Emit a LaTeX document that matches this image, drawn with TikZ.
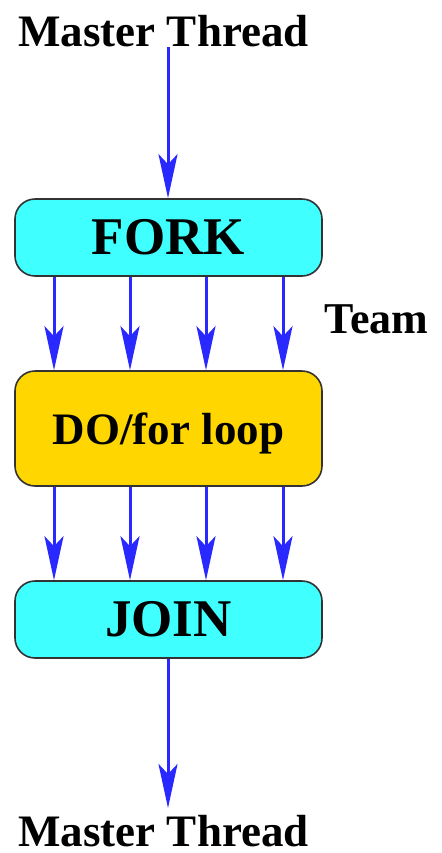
\documentclass[tikz,border=0pt]{standalone}
\usepackage{fontspec}
\setmainfont{Liberation Serif}
\usetikzlibrary{arrows.meta}
\definecolor{boxcyan}{RGB}{64,255,255}
\definecolor{boxgold}{RGB}{255,214,0}
\definecolor{threadblue}{RGB}{40,40,255}
\begin{document}
\begin{tikzpicture}[x=0.5pt,y=-0.5pt,
        box/.style={draw=black!80,line width=0.8pt,rounded corners=10pt,minimum width=153.5pt,inner sep=0pt,font=\bfseries},
        thread/.style={draw=threadblue,line width=1.5pt,-{Stealth[length=22pt,width=9.5pt,inset=5pt]}},
        label/.style={inner sep=0pt,anchor=base,font=\fontsize{22.5}{27}\bfseries}]
                \useasboundingbox (0,0) rectangle (442,853);
                \node[label]  (top) at (163.5, 46) {Master Thread};
                \coordinate  (start) at (168, 47);
                \node[box,fill=boxcyan,minimum height=38.5pt,font=\fontsize{26.5}{30}\bfseries]  (fork) at (168.5, 237.5) {FORK};
                \node[box,fill=boxgold,minimum height=57.5pt,font=\fontsize{22.5}{27}\bfseries,text depth=0pt]  (loop) at (168.5, 428.5) {DO/for loop};
                \node[box,fill=boxcyan,minimum height=38.5pt,font=\fontsize{26.5}{30}\bfseries]  (join) at (168.5, 619.5) {JOIN};
                \node[label,font=\fontsize{22}{26}\bfseries]  (team) at (376.5, 333) {Team};
                \node[label]  (bottom) at (163.5, 846) {Master Thread};
                \coordinate  (end) at (168, 808);
                \draw[thread]  (start) to (fork.north -| start);
                \foreach \x in {54,130,206,283} {
                    \draw[thread] (fork.south -| \x,0) to (loop.north -| \x,0);
                    \draw[thread] (loop.south -| \x,0) to (join.north -| \x,0);
                }
                \draw[thread]  (join.south -| end) to (end);
\end{tikzpicture}
\end{document}
